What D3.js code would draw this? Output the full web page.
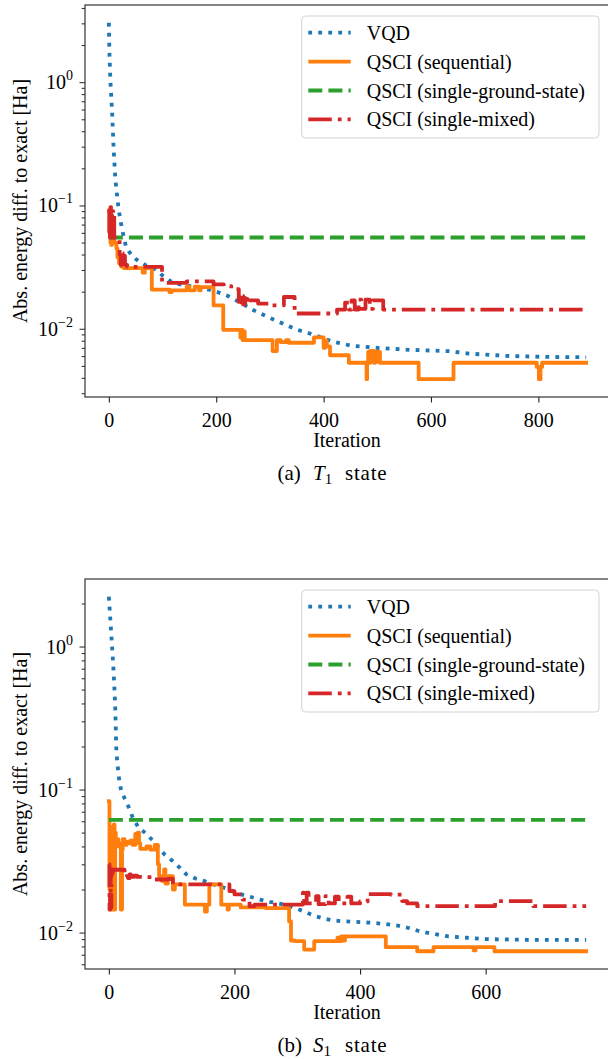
<!DOCTYPE html>
<html>
<head>
<meta charset="utf-8">
<script src="https://cdn.jsdelivr.net/npm/d3@7"></script>
<style>
body { margin: 0; background: #fff; }
text { font-family: "Liberation Serif", "DejaVu Serif", serif; fill: #000; }
</style>
</head>
<body>
<svg id="fig" width="608" height="1059"></svg>
<script>
// ---- data: [iteration, abs. energy diff (Ha)] ----
var t1Vqd = [[0,3.03],[1,1.75],[3,1.0],[6,0.576],[9,0.28],[12,0.165],[14,0.136],[18,0.094],[24,0.066],[28,0.055],
  [32,0.046],[43,0.039],[55,0.0354],[70,0.0325],[87,0.0303],[100,0.027],[115,0.0243],[133,0.0229],[160,0.0218],
  [186,0.0208],[203,0.0198],[220,0.0186],[245,0.0163],[267,0.0143],[284,0.0132],[301,0.0122],[325,0.011],
  [347,0.00995],[382,0.00894],[416,0.00788],[453,0.00727],[507,0.00696],[561,0.00675],[633,0.00658],
  [670,0.00629],[741,0.00602],[816,0.00591],[889,0.00587]];
var t1Seq = [[0,0.09],[1,0.06],[2,0.085],[3,0.05],[4,0.048],[6,0.055],[10,0.05],[14,0.045],[16,0.038],[19,0.034],
  [23,0.032],[28,0.031],[63,0.0285],[67,0.031],[80,0.0208],[113,0.0198],[117,0.0205],[145,0.022],[150,0.0205],
  [160,0.022],[168,0.0205],[171,0.0218],[195,0.0155],[213,0.0098],[245,0.0085],[247,0.0098],[249,0.0081],
  [251,0.0095],[253,0.0081],[305,0.0066],[313,0.0081],[320,0.0078],[330,0.0081],[335,0.0077],[382,0.0085],
  [400,0.007],[403,0.008],[406,0.0072],[412,0.0061],[447,0.0053],[480,0.0039],[481,0.0053],[483,0.0065],
  [485,0.0053],[487,0.0066],[489,0.0054],[491,0.0066],[494,0.0053],[496,0.0065],[499,0.0054],[502,0.0065],
  [505,0.0053],[577,0.0039],[642,0.0053],[797,0.0049],[801,0.0039],[804,0.0049],[807,0.0053],[889,0.0053]];
var t1Ground = [[0,0.055],[889,0.055]];
var t1Mixed = [[0,0.06],[1,0.092],[2,0.055],[3,0.097],[4,0.052],[5,0.088],[6,0.06],[7,0.09],[8,0.056],[9,0.082],
  [10,0.055],[12,0.054],[20,0.04],[22,0.033],[24,0.041],[26,0.034],[28,0.039],[30,0.033],[34,0.0318],
  [99,0.0236],[145,0.0242],[195,0.0229],[214,0.0222],[228,0.021],[242,0.0165],[244,0.018],[246,0.0158],
  [248,0.0185],[250,0.016],[252,0.0178],[254,0.0157],[256,0.0175],[258,0.016],[262,0.017],[278,0.016],
  [300,0.0155],[326,0.0181],[346,0.0133],[425,0.0143],[440,0.0163],[447,0.0143],[452,0.017],[458,0.0143],
  [465,0.0172],[470,0.0145],[478,0.0172],[486,0.0145],[492,0.017],[511,0.0143],[889,0.0143]];

var s1Vqd = [[0,2.23],[4,1.19],[7,0.74],[10,0.4],[12,0.182],[15,0.132],[17,0.112],[20,0.097],[27,0.0833],
  [33,0.073],[38,0.0635],[47,0.0545],[58,0.0497],[70,0.044],[89,0.035],[101,0.0318],[113,0.0284],[123,0.0256],
  [138,0.0239],[151,0.023],[167,0.0217],[188,0.0203],[209,0.0186],[225,0.0178],[241,0.017],[256,0.0164],
  [270,0.016],[285,0.0155],[310,0.0141],[327,0.0131],[343,0.0125],[356,0.0122],[372,0.012],[388,0.0119],
  [420,0.0117],[438,0.0115],[460,0.0112],[480,0.0107],[495,0.0102],[510,0.0099],[528,0.0096],[541,0.0094],
  [570,0.0092],[602,0.009],[666,0.0089],[760,0.0089]];
var s1Seq = [[0,0.083],[1,0.02],[2,0.0145],[3,0.055],[4,0.03],[5,0.0145],[6,0.045],[8,0.057],[9,0.0145],
  [10,0.05],[11,0.04],[13,0.045],[15,0.04],[18,0.042],[19,0.0145],[21,0.038],[22,0.045],[25,0.041],[28,0.043],
  [31,0.042],[34,0.044],[38,0.041],[42,0.049],[44,0.045],[46,0.05],[48,0.042],[50,0.0385],[60,0.04],
  [66,0.038],[73,0.041],[78,0.03],[80,0.0248],[84,0.023],[88,0.0277],[90,0.022],[94,0.0248],[102,0.02],
  [105,0.0217],[121,0.0157],[153,0.014],[156,0.0157],[160,0.0217],[179,0.0157],[189,0.0145],[191,0.0157],
  [210,0.015],[250,0.0148],[287,0.012],[290,0.0088],[296,0.0087],[311,0.0076],[327,0.0087],[364,0.0092],
  [367,0.0087],[370,0.0094],[373,0.0088],[376,0.0094],[441,0.0079],[491,0.0074],[517,0.0079],[581,0.0075],
  [584,0.0079],[614,0.0074],[760,0.0074]];
var s1Ground = [[0,0.0614],[760,0.0614]];
var s1Mixed = [[0,0.03],[1,0.0145],[2,0.028],[3,0.015],[4,0.026],[6,0.0275],[25,0.0255],[27,0.0245],
  [29,0.026],[31,0.024],[33,0.0255],[35,0.0245],[40,0.025],[45,0.0245],[57,0.0244],[73,0.0235],[94,0.0237],
  [102,0.0217],[179,0.0217],[192,0.0195],[200,0.0185],[213,0.017],[224,0.0153],[232,0.0157],[250,0.0157],
  [309,0.019],[311,0.016],[315,0.019],[318,0.016],[330,0.018],[334,0.0158],[345,0.018],[350,0.016],
  [360,0.0178],[366,0.016],[380,0.0178],[386,0.016],[400,0.0165],[412,0.0186],[449,0.0184],[467,0.0166],
  [475,0.016],[491,0.0153],[615,0.0166],[676,0.0153],[760,0.0153]];

var seriesNames = ['VQD', 'QSCI (sequential)', 'QSCI (single-ground-state)', 'QSCI (single-mixed)'];
var t1Ticks = [0, 200, 400, 600, 800];
var s1Ticks = [0, 200, 400, 600];

// ---- styles ----
var lw = 3.8;
var serif = '"Liberation Serif", "DejaVu Serif", serif';
var styles = [
  { color: '#1f77b4', dash: '3.8,6.2', curve: d3.curveLinear },
  { color: '#ff7f0e', dash: null, curve: d3.curveStepAfter },
  { color: '#2ca02c', dash: '14,6.1', curve: d3.curveLinear },
  { color: '#d62728', dash: '23.5,6,3.8,6', curve: d3.curveStepAfter }
];

var svg = d3.select('#fig');

function drawPanel(p) {
  var all = [].concat.apply([], p.series);
  var xMax = d3.max(all, function(d) { return d[0]; });
  var lo = Math.log10(d3.min(all, function(d) { return d[1]; })),
      hi = Math.log10(d3.max(all, function(d) { return d[1]; })),
      pad = (hi - lo) * 0.05;

  var x = d3.scaleLinear().domain([-0.05 * xMax, 1.05 * xMax]).range([p.left, p.right]);
  var y = d3.scaleLog().domain([Math.pow(10, lo - pad), Math.pow(10, hi + pad)]).range([p.bottom, p.top]);

  var g = svg.append('g');

  g.append('clipPath').attr('id', 'clip' + p.id)
    .append('rect').attr('x', p.left).attr('y', p.top)
    .attr('width', p.right - p.left).attr('height', p.bottom - p.top);

  // lines
  var lines = g.append('g').attr('clip-path', 'url(#clip' + p.id + ')');
  p.series.forEach(function(s, i) {
    var line = d3.line().x(function(d) { return x(d[0]); }).y(function(d) { return y(d[1]); }).curve(styles[i].curve);
    lines.append('path').datum(s)
      .attr('d', line)
      .attr('fill', 'none')
      .attr('stroke', styles[i].color)
      .attr('stroke-width', lw)
      .attr('stroke-linejoin', 'round')
      .attr('stroke-linecap', styles[i].dash ? 'butt' : 'square')
      .attr('stroke-dasharray', styles[i].dash);
  });

  // x axis
  var xAxis = g.append('g').attr('transform', 'translate(0,' + p.bottom + ')')
    .call(d3.axisBottom(x).tickValues(p.ticks).tickSize(5.5).tickPadding(5).tickFormat(d3.format('d')))
    .attr('font-family', serif).attr('font-size', 20);
  xAxis.select('.domain').remove();
  xAxis.selectAll('line').attr('stroke', '#222').attr('stroke-width', 1.1);
  xAxis.selectAll('text').attr('dy', '0.95em');

  // y axis: minor and major ticks
  var yt = y.ticks();
  var decades = yt.filter(function(d) { return Math.abs(Math.log10(d) - Math.round(Math.log10(d))) < 1e-6; });
  var minors = yt.filter(function(d) { return decades.indexOf(d) < 0; });
  var yMinor = g.append('g').attr('transform', 'translate(' + p.left + ',0)')
    .call(d3.axisLeft(y).tickValues(minors).tickSize(3.3).tickFormat(''));
  var yMajor = g.append('g').attr('transform', 'translate(' + p.left + ',0)')
    .call(d3.axisLeft(y).tickValues(decades).tickSize(5.5).tickFormat(''));
  [yMinor, yMajor].forEach(function(a) {
    a.select('.domain').remove();
    a.selectAll('line').attr('stroke', '#222').attr('stroke-width', 1);
  });
  decades.forEach(function(d) {
    var e = Math.round(Math.log10(d));
    var t = g.append('text').attr('x', p.left - 12).attr('y', y(d) + 7)
      .attr('text-anchor', 'end').style('font-size', '20px');
    t.append('tspan').text('10');
    t.append('tspan').attr('dy', -9).style('font-size', '14px').text(e < 0 ? '\u2212' + (-e) : String(e));
  });

  // spines (right spine falls outside the picture)
  g.append('rect').attr('x', p.left).attr('y', p.top)
    .attr('width', p.right - p.left).attr('height', p.bottom - p.top)
    .attr('fill', 'none').attr('stroke', '#333').attr('stroke-width', 1.2);

  // axis labels
  g.append('text').attr('transform', 'translate(20,' + ((p.top + p.bottom) / 2) + ') rotate(-90)')
    .attr('text-anchor', 'middle').attr('dy', '0.35em').style('font-size', '20px')
    .text('Abs. energy diff. to exact [Ha]');
  g.append('text').attr('x', 347).attr('y', p.bottom + 50)
    .attr('text-anchor', 'middle').style('font-size', '20px').text('Iteration');

  // legend
  var lx = 301.7, ly = p.top + 11;
  g.append('rect').attr('x', lx).attr('y', ly).attr('width', 297.3).attr('height', 122).attr('rx', 4)
    .attr('fill', '#fff').attr('fill-opacity', 0.8).attr('stroke', '#d3d3d3').attr('stroke-width', 1);
  seriesNames.forEach(function(name, i) {
    var cy = ly + 16.7 + i * 28.9;
    g.append('line').attr('x1', lx + 6.6).attr('x2', lx + 49).attr('y1', cy).attr('y2', cy)
      .attr('stroke', styles[i].color).attr('stroke-width', lw)
      .attr('stroke-dasharray', styles[i].dash);
    g.append('text').attr('x', lx + 65).attr('y', cy).attr('dy', '0.35em')
      .style('font-size', '20px').text(name);
  });

  // caption
  var cap = g.append('text').attr('y', p.bottom + 82.5).style('font-size', '21px');
  cap.append('tspan').attr('x', 277.5).text('(' + p.letter + ')');
  cap.append('tspan').attr('x', 313).style('font-style', 'italic').text(p.sym);
  cap.append('tspan').attr('dy', 4).style('font-size', '15px').text('1');
  cap.append('tspan').attr('x', 345).attr('dy', -4).style('letter-spacing', '0.8px').text('state');
}

drawPanel({ id: 'a', top: 5, bottom: 397, left: 85, right: 610, ticks: t1Ticks, letter: 'a', sym: 'T',
  series: [t1Vqd, t1Seq, t1Ground, t1Mixed] });
drawPanel({ id: 'b', top: 579, bottom: 969, left: 85, right: 610, ticks: s1Ticks, letter: 'b', sym: 'S',
  series: [s1Vqd, s1Seq, s1Ground, s1Mixed] });
</script>
</body>
</html>
